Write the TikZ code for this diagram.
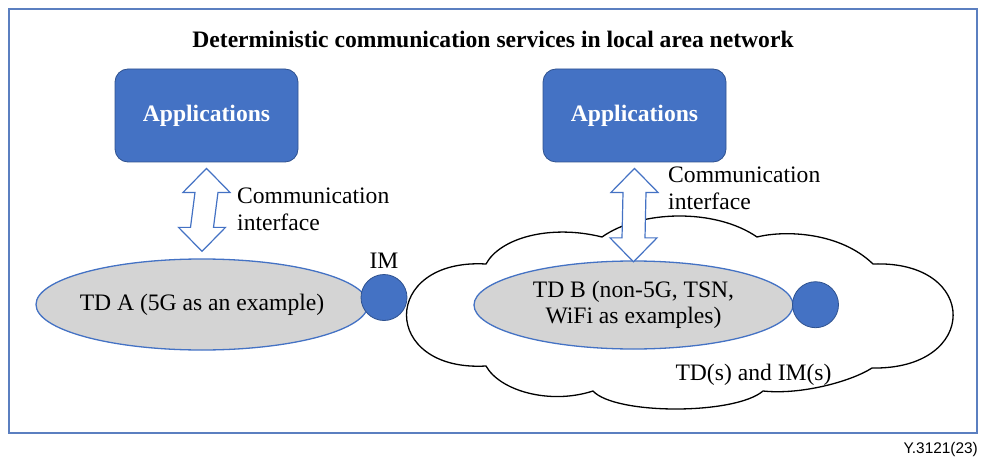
\documentclass[tikz,border=0pt]{standalone}
\usepackage{fontspec}
\setmainfont{Liberation Serif}
\newfontfamily\sansf{Liberation Sans}
\usetikzlibrary{shapes.geometric,calc}
\definecolor{ublue}{HTML}{4472C4}
\definecolor{dblue}{HTML}{2F528F}
\definecolor{fblue}{HTML}{5B7FC0}
\definecolor{lgray}{HTML}{D4D4D4}
\newcommand\blockarrow[2]{%
  \draw[blockarr] (#1) -- ($(#1)+(23.5,24)$) -- ($(#1)+(11.5,24)$)
    -- ($(#2)+(11.5,-24)$) -- ($(#2)+(23.5,-24)$) -- (#2)
    -- ($(#2)+(-23.5,-24)$) -- ($(#2)+(-11.5,-24)$)
    -- ($(#1)+(-11.5,24)$) -- ($(#1)+(-23.5,24)$) -- cycle;}
\begin{document}
\begin{tikzpicture}[x=1pt,y=-1pt,
  txt/.style={font=\fontsize{23.6}{26.5}\selectfont, inner sep=0pt},
  titletxt/.style={font=\bfseries\fontsize{23.6}{28}\selectfont, inner sep=0pt},
  appbox/.style={draw=dblue, line width=0.8pt, fill=ublue, rounded corners=13pt,
    minimum width=183pt, minimum height=93pt, inner sep=0pt, text=white,
    font=\bfseries\fontsize{23.6}{28}\selectfont},
  tdell/.style={ellipse, draw=ublue, line width=1.3pt, fill=lgray, inner sep=0pt},
  imdot/.style={circle, draw=dblue, line width=0.8pt, fill=ublue,
    minimum size=46pt, inner sep=0pt},
  blockarr/.style={draw=ublue, line width=1.2pt, fill=white, line join=miter},
  cloudline/.style={draw=black, line width=1.3pt, fill=white},
  frameline/.style={draw=fblue, line width=1.3pt}
]
\useasboundingbox (0,0) rectangle (981,457);
\draw[frameline] (9,9) rectangle (977,433);
\node[titletxt, anchor=base] (title) at (493,48) {Deterministic communication services in local area network};

% cloud
\coordinate (P0) at (486,264);
\coordinate (P1) at (602,237);
\coordinate (P2) at (757,237);
\coordinate (P3) at (873,264);
\coordinate (P4) at (872,368);
\coordinate (P5) at (763,391);
\coordinate (P6) at (593,391);
\coordinate (P7) at (486,366);
\path[cloudline] (P0) .. controls (500,238) and (550,224) .. (P1)
  .. controls (640,210) and (715,208) .. (P2)
  .. controls (785,230) and (840,232) .. (P3)
  .. controls (980,260) and (980,370) .. (P4)
  .. controls (850,382) and (800,395) .. (P5)
  .. controls (735,415) and (615,415) .. (P6)
  .. controls (550,405) and (500,391) .. (P7)
  .. controls (380,372) and (380,258) .. (P0) -- cycle;

\node[appbox] (appA) at (206.5,115.5) {Applications};
\node[appbox] (appB) at (634.5,115.5) {Applications};

\node[tdell, minimum width=332pt, minimum height=91pt] (tdA) at (202,304.5) {};
\node[txt] (tdAtxt) at (tdA.center) {TD A (5G as an example)};
\node[tdell, minimum width=319pt, minimum height=88pt] (tdB) at (633.5,305) {};
\node[txt, align=center] (tdBtxt) at (tdB.center) {TD B (non-5G, TSN,\\WiFi as examples)};

\node[imdot] (imA) at (384,297.5) {};
\node[imdot] (imB) at (815.5,304.7) {};
\node[txt, anchor=base] (imlbl) at (384,268) {IM};

\coordinate (aT) at ([yshift=-6pt]appA.south);
\coordinate (aB) at ([yshift=7pt]tdA.north);
\coordinate (bT) at ([yshift=-6pt]appB.south);
\coordinate (bB) at ([yshift=-1.5pt]tdB.north);
\blockarrow{aT}{aB}
\blockarrow{bT}{bB}

\node[txt, anchor=base west, align=left] (lblA) at (237,230) {Communication\\interface};
\node[txt, anchor=base west, align=left] (lblB) at (668,209) {Communication\\interface};
\node[txt, anchor=base] (cloudlbl) at (753.5,380) {TD(s) and IM(s)};
\node[font=\sansf\fontsize{15.4}{18}\selectfont, inner sep=0pt, anchor=base east] (fig) at (978,453) {Y.3121(23)};
\end{tikzpicture}
\end{document}
